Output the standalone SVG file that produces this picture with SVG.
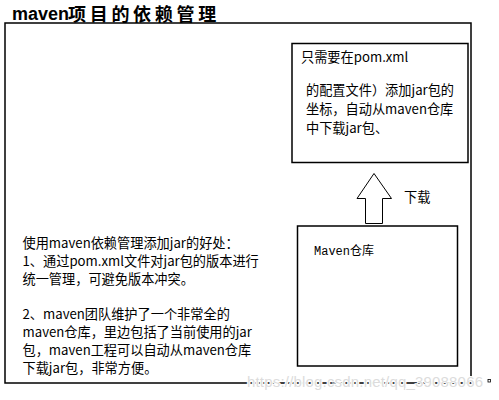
<svg xmlns="http://www.w3.org/2000/svg" width="499" height="400" viewBox="0 0 499 400">
<style>
.box{fill:#fff;stroke:#000;stroke-width:1.5}
.t{font-family:"Noto Sans CJK SC","Liberation Sans",sans-serif;font-size:13.2px;fill:#000}
.m{font-family:"Liberation Mono","Noto Sans CJK SC",monospace;font-size:12px;fill:#000}
</style>
<rect width="499" height="400" fill="#fff"/>
<g id="title">
<text x="12" y="20" font-family="Liberation Sans,sans-serif" font-weight="bold" font-size="18">maven</text>
<text x="68" y="21" font-family="Noto Sans CJK SC,sans-serif" font-weight="bold" font-size="18" letter-spacing="3.7">项目的依赖管理</text>
</g>
<g id="frame"><rect class="box" x="5" y="23" width="466" height="360"/></g>
<g id="pom">
<rect class="box" x="292" y="43.5" width="176" height="119"/>
<text class="t" x="301" y="62">只需要在pom.xml</text>
<text class="t" x="306" y="95">的配置文件）添加jar包的</text>
<text class="t" x="306" y="114">坐标，自动从maven仓库</text>
<text class="t" x="306" y="133">中下载jar包、</text>
</g>
<g id="repo">
<rect class="box" x="297.5" y="226" width="160" height="140"/>
<text class="m" x="314" y="255">Maven仓库</text>
</g>
<g id="connectors">
<path d="M374 173.5 L391.5 198.5 L382.5 198.5 L382.5 223.5 L365.5 223.5 L365.5 198.5 L357 198.5 Z" fill="#fff" stroke="#000" stroke-width="1"/>
<text class="t" x="404" y="202">下载</text>
</g>
<g id="benefits">
<text class="t" x="22.5" y="248">使用maven依赖管理添加jar的好处：</text>
<text class="t" x="22.5" y="266">1、通过pom.xml文件对jar包的版本进行</text>
<text class="t" x="22.5" y="284">统一管理，可避免版本冲突。</text>
<text class="t" x="22.5" y="319">2、maven团队维护了一个非常全的</text>
<text class="t" x="22.5" y="337">maven仓库，里边包括了当前使用的jar</text>
<text class="t" x="22.5" y="355">包，maven工程可以自动从maven仓库</text>
<text class="t" x="22.5" y="373">下载jar包，非常方便。</text>
</g>
<text x="247" y="387" font-family="Liberation Sans,sans-serif" font-size="15" fill="#dcdcdc" stroke="#fff" stroke-width="2" paint-order="stroke" textLength="236">https://blog.csdn.net/qq_39088066</text>
<rect x="488" y="379.5" width="2.5" height="2.5" fill="none" stroke="#000" stroke-width="0.8"/>
</svg>
